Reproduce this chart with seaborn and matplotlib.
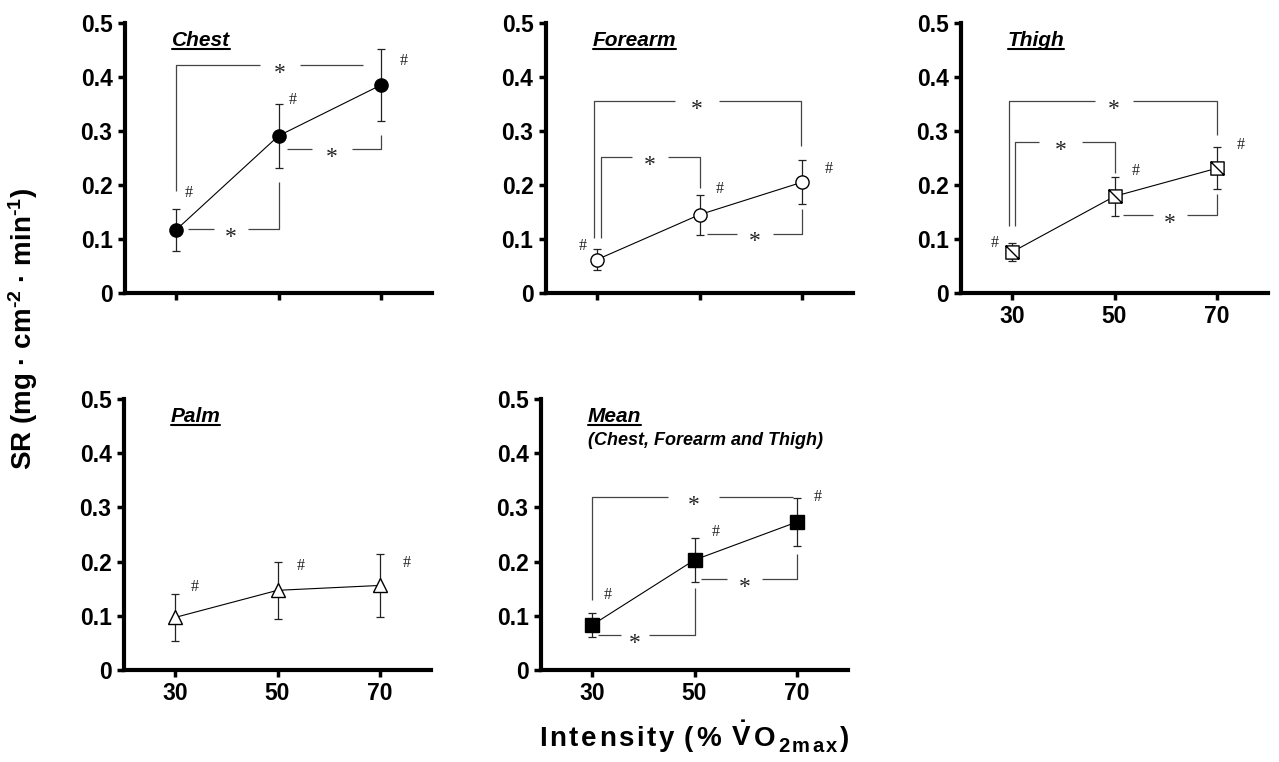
import numpy as np
import pandas as pd
import seaborn as sns
import matplotlib.pyplot as plt
from matplotlib.path import Path
from matplotlib.lines import Line2D
from matplotlib.ticker import FuncFormatter

# data (sweat rate, mg/cm2/min)
intensity = [30, 50, 70]

chest_mean = [0.117, 0.291, 0.385]
chest_sd = [0.039, 0.059, 0.066]
forearm_mean = [0.062, 0.145, 0.205]
forearm_sd = [0.020, 0.037, 0.041]
thigh_mean = [0.076, 0.179, 0.231]
thigh_sd = [0.016, 0.036, 0.039]
palm_mean = [0.097, 0.147, 0.156]
palm_sd = [0.043, 0.053, 0.058]
avg_mean = [0.083, 0.203, 0.273]
avg_sd = [0.023, 0.041, 0.044]

# significance brackets: x0, x1, level, left drop, right drop, gap start, gap end
chest_brackets = [(30, 66.6, 0.422, 0.188, None, 46.4, 54.2),
                  (32.4, 50, 0.118, None, 0.205, 37.3, 44.1),
                  (51.7, 70, 0.267, None, 0.293, 56.5, 64.3)]
forearm_brackets = [(29.35, 69.8, 0.356, 0.102, 0.272, 45.3, 53.8),
                    (30.8, 50, 0.251, 0.102, 0.195, 36.8, 43.9),
                    (51.5, 70, 0.110, None, 0.155, 57.4, 64.3)]
thigh_brackets = [(29.4, 70, 0.356, 0.124, 0.292, 46.2, 53.7),
                  (30.65, 50, 0.280, 0.124, 0.223, 35.2, 43.7),
                  (51.7, 70, 0.145, None, 0.183, 57.6, 64.2)]
avg_brackets = [(30, 69.3, 0.319, 0.129, None, 44.9, 54.7),
                (31.2, 50, 0.064, None, 0.151, 35.7, 41.1),
                (51.2, 70, 0.167, None, 0.214, 56.4, 63.1)]

# '#' marks
chest_hash = [(32.4, 0.186), (52.8, 0.358), (74.4, 0.429)]
forearm_hash = [(27.1, 0.087), (54.0, 0.192), (75.3, 0.230)]
thigh_hash = [(26.6, 0.093), (54.2, 0.226), (74.6, 0.274)]
palm_hash = [(33.9, 0.154), (54.5, 0.191), (75.2, 0.198)]
avg_hash = [(33.1, 0.139), (54.1, 0.254), (74.1, 0.320)]

sns.set_style('white')
plt.rcParams['font.family'] = ['Liberation Sans', 'DejaVu Sans']
plt.rcParams['text.color'] = 'black'
plt.rcParams['mathtext.fontset'] = 'custom'
plt.rcParams['mathtext.rm'] = 'Liberation Sans:bold'
plt.rcParams['mathtext.it'] = 'Liberation Sans:bold'
plt.rcParams['mathtext.bf'] = 'Liberation Sans:bold'

W, H = 1279, 762
fig = plt.figure(figsize=(W / 100, H / 100), dpi=100)


def rect(left, top, w=307, h=270):
    return [left / W, (H - top - h) / H, w / W, h / H]


# square with a diagonal stroke
slash_square = Path([(-1, -1), (1, -1), (1, 1), (-1, 1), (-1, -1), (-1, 1), (1, -1)],
                    [Path.MOVETO, Path.LINETO, Path.LINETO, Path.LINETO, Path.CLOSEPOLY,
                     Path.MOVETO, Path.LINETO])

panels = [
    ('Chest', chest_mean, chest_sd, 'o', 'black', rect(125, 23), False, chest_brackets, chest_hash, None),
    ('Forearm', forearm_mean, forearm_sd, 'o', 'white', rect(546, 23), False, forearm_brackets, forearm_hash, None),
    ('Thigh', thigh_mean, thigh_sd, slash_square, 'white', rect(961, 23), True, thigh_brackets, thigh_hash, None),
    ('Palm', palm_mean, palm_sd, '^', 'white', rect(124, 399, h=271), True, [], palm_hash, None),
    ('Mean', avg_mean, avg_sd, 's', 'black', rect(541, 399, h=271), True, avg_brackets, avg_hash,
     '(Chest, Forearm and Thigh)'),
]

serif = ['Liberation Serif', 'DejaVu Serif']
titles = []

for name, mean, sd, marker, fc, pos, show_x, brackets, hashes, sub in panels:
    ax = fig.add_axes(pos)
    df = pd.DataFrame({'intensity': intensity, 'sr': mean})

    ax.errorbar(intensity, mean, yerr=sd, fmt='none', ecolor='#222222',
                elinewidth=0.9, capsize=3, capthick=0.9, zorder=2)
    sns.lineplot(data=df, x='intensity', y='sr', ax=ax, color='black', lw=0.8,
                 marker=marker, markersize=9.5, markerfacecolor=fc,
                 markeredgecolor='black', markeredgewidth=1, errorbar=None, zorder=3)

    for x0, x1, y, yl, yr, g0, g1 in brackets:
        kw = dict(color='#444444', lw=0.9, solid_capstyle='butt', zorder=1)
        lx = [x0, x0, g0] if yl is not None else [x0, g0]
        ly = [yl, y, y] if yl is not None else [y, y]
        rx = [g1, x1, x1] if yr is not None else [g1, x1]
        ry = [y, y, yr] if yr is not None else [y, y]
        ax.plot(lx, ly, **kw)
        ax.plot(rx, ry, **kw)
        ax.annotate('*', xy=((g0 + g1) / 2, y), xytext=(0, -10), textcoords='offset points',
                    ha='center', va='baseline', fontsize=17, family=serif, color='#222222')

    for hx, hy in hashes:
        ax.text(hx, hy, '#', ha='center', va='center', fontsize=11.5, family=serif, color='#222222')

    t = ax.text(0.152, 0.914, name, transform=ax.transAxes, fontsize=15,
                fontweight='bold', fontstyle='italic', va='baseline', ha='left')
    titles.append((ax, t))
    if sub:
        ax.text(0.152, 0.83, sub, transform=ax.transAxes, fontsize=13,
                fontweight='bold', fontstyle='italic', va='baseline', ha='left')

    ax.set_xlim(20, 80)
    ax.set_ylim(0, 0.5)
    ax.set_xticks(intensity)
    ax.set_yticks([0, 0.1, 0.2, 0.3, 0.4, 0.5])
    ax.yaxis.set_major_formatter(FuncFormatter(lambda v, p: '0' if v == 0 else f'{v:.1f}'))
    ax.set_xlabel('')
    ax.set_ylabel('')
    sns.despine(ax=ax)
    for s in ['left', 'bottom']:
        ax.spines[s].set_linewidth(3)
        ax.spines[s].set_color('black')
    ax.tick_params(bottom=True, left=True, direction='out', length=5, width=2.5,
                   colors='black', labelsize=16.5, pad=4, labelbottom=show_x)
    for lab in ax.get_xticklabels() + ax.get_yticklabels():
        lab.set_fontweight('bold')

fig.text(0.018, 0.568, r'SR (mg · cm$^{\text{-2}}$ · min$^{\text{-1}}$)', rotation=90,
         fontsize=20, fontweight='bold', ha='center', va='center')

# x label with wide letter spacing, built piece by piece: (text, size, baseline shift px)
xlabel_parts = [('I', 20, 0), ('n', 20, 0), ('t', 20, 0), ('e', 20, 0), ('n', 20, 0),
                ('s', 20, 0), ('i', 20, 0), ('t', 20, 0), ('y', 20, 0), (' ', 20, 0),
                ('(', 20, 0), ('%', 20, 0), (' ', 20, 0), (r'$\dot{V}$', 20, 0), ('O', 20, 0),
                ('2', 14.5, -6), ('m', 14.5, -6), ('a', 14.5, -6), ('x', 14.5, -6), (')', 20, 0)]
renderer = fig.canvas.get_renderer()
base_y = 746
pieces = []
for part, size, dy in xlabel_parts:
    if part == ' ':
        pieces.append((None, 5.0))
        continue
    tx = fig.text(0, 1 - (base_y - dy) / H, part, fontsize=size, fontweight='bold',
                  ha='left', va='baseline')
    pieces.append((tx, tx.get_window_extent(renderer).width))
gap = 2.6
total = sum(w for _, w in pieces) + gap * (len(pieces) - 1)
xpos = 694 - total / 2
for tx, w in pieces:
    if tx is not None:
        tx.set_x(xpos / W)
    xpos += w + gap

# underline the panel titles
fig.canvas.draw()
renderer = fig.canvas.get_renderer()
inv = fig.transFigure.inverted()
for ax, t in titles:
    bb = t.get_window_extent(renderer)
    base = ax.transAxes.transform((0.152, 0.914))[1]
    p0 = inv.transform((bb.x0, base - 3))
    p1 = inv.transform((bb.x1, base - 3))
    fig.add_artist(Line2D([p0[0], p1[0]], [p0[1], p1[1]], transform=fig.transFigure,
                          color='black', lw=1.5))

fig.savefig('out.png', dpi=100)
